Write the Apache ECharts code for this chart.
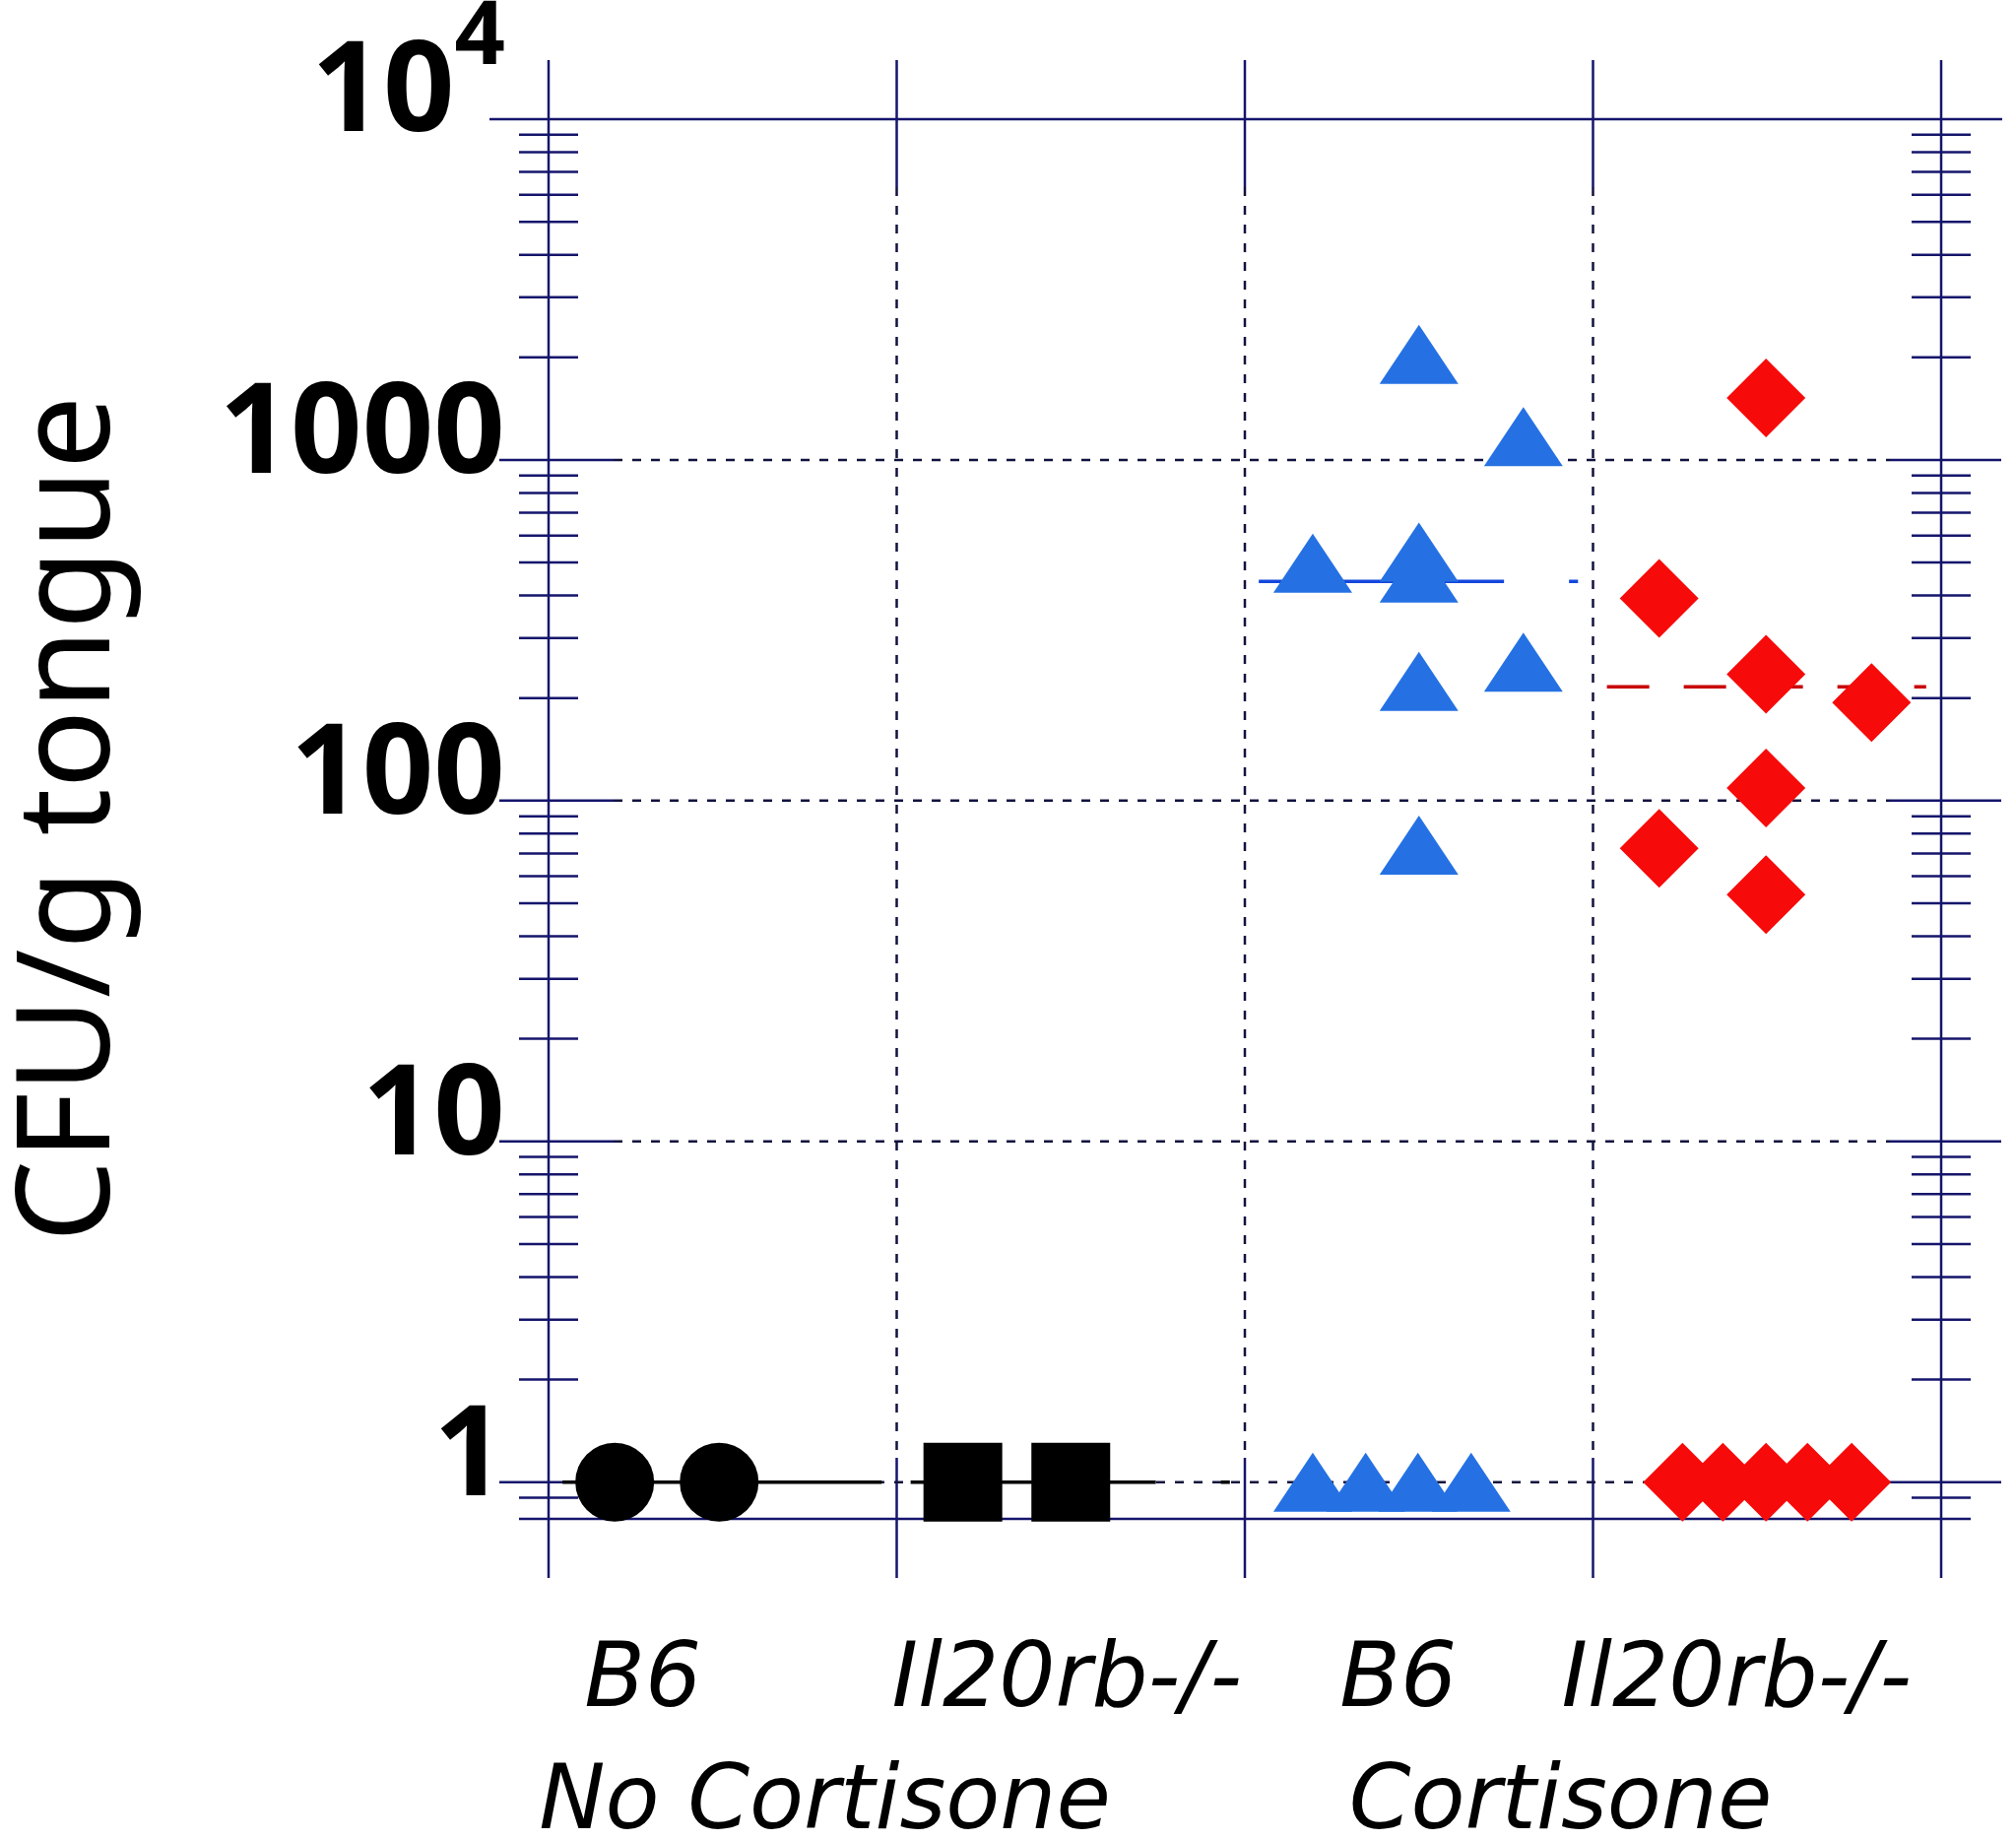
<!DOCTYPE html>
<html>
<head>
<meta charset="utf-8">
<script src="https://cdn.jsdelivr.net/npm/echarts@6/dist/echarts.min.js"></script>
<style>
  html, body { margin: 0; padding: 0; background: #fff; }
  #main { width: 2047px; height: 1868px; }
</style>
</head>
<body>
<div id="main"></div>
<script>
// groups on the x axis
var genotypes = ['B6', 'Il20rb-/-', 'B6', 'Il20rb-/-'];
var treatments = ['No Cortisone', 'Cortisone'];

// CFU/g tongue, one value per mouse (undetected plotted at 1)
var b6NoCort = [1, 1];
var il20NoCort = [1, 1];
var b6Cort = [2040, 1170, 498, 536, 466, 224, 255, 74, 1, 1, 1, 1];
var il20Cort = [1520, 392, 235, 194, 109, 72.5, 53, 1, 1, 1, 1, 1];

// horizontal scatter position of each mouse inside its column (0..1)
var b6NoCortJitter = [0.19, 0.49];
var il20NoCortJitter = [0.19, 0.50];
var b6CortJitter = [0.50, 0.80, 0.195, 0.50, 0.50, 0.50, 0.80, 0.50, 0.195, 0.347, 0.497, 0.65];
var il20CortJitter = [0.497, 0.19, 0.497, 0.80, 0.497, 0.19, 0.497, 0.257, 0.373, 0.497, 0.616, 0.743];

// group centre lines
var centreLines = [1, 1, 440, 216];

// y axis
var yMin = 0.78;
var yMax = 10000;
var decades = [1, 10, 100, 1000, 10000];
var decadeLabels = ['1', '10', '100', '1000', '10|4'];
var minorSteps = [2, 3, 4, 5, 6, 7, 8, 9];
var belowOne = [0.9];

var NAVY = '#15156c';
var GRID = '#12123e';
var BLUE = '#2571e3';
var RED = '#f70a0a';

function pts(vals, jitter, g) {
    return vals.map(function (v, i) { return [g + jitter[i], v]; });
}

// frame: axes, ticks and grid lines, placed through the axes
function renderFrame(params, api) {
    var kids = [];
    function seg(x1, y1, x2, y2, dash) {
        kids.push({
            type: 'line',
            shape: { x1: x1, y1: y1, x2: x2, y2: y2 },
            style: dash
                ? { stroke: GRID, lineWidth: 2.5, lineDash: dash }
                : { stroke: NAVY, lineWidth: 2.5 }
        });
    }
    var xL = api.coord([0, 1])[0];
    var xR = api.coord([genotypes.length, 1])[0];
    var yTop = api.coord([0, yMax])[1];
    var yBot = api.coord([0, yMin])[1];

    for (var i = 0; i <= genotypes.length; i++) {
        var x = api.coord([i, 1])[0];
        if (i === 0 || i === genotypes.length) {
            seg(x, yTop - 60, x, yBot + 60);
        } else {
            seg(x, yTop - 60, x, yTop + 69);
            seg(x, yTop + 69, x, yBot - 62, [9, 10]);
            seg(x, yBot - 62, x, yBot + 60);
        }
    }
    seg(xL - 60, yTop, xR + 62, yTop);
    seg(xL - 30, yBot, xR + 30, yBot);

    decades.slice(0, -1).forEach(function (d) {
        var y = api.coord([0, d])[1];
        seg(xL - 50, y, xL + 66, y);
        seg(xL + 66, y, xR - 52, y, [9, 10]);
        seg(xR - 52, y, xR + 61, y);
    });

    var minors = belowOne.slice();
    decades.slice(0, -1).forEach(function (d) {
        minorSteps.forEach(function (m) { minors.push(m * d); });
    });
    minors.forEach(function (v) {
        var y = api.coord([0, v])[1];
        seg(xL - 30, y, xL + 30, y);
        seg(xR - 30, y, xR + 30, y);
    });
    return { type: 'group', children: kids };
}

function centreLine(g, color, dash) {
    return {
        type: 'line',
        xAxisIndex: 0,
        yAxisIndex: 0,
        silent: true,
        symbol: 'none',
        z: 3,
        lineStyle: { color: color, width: 3.5, type: dash },
        data: [[g + 0.04, centreLines[g]], [g + 0.957, centreLines[g]]]
    };
}

function dots(vals, jitter, g, symbol, size, color) {
    return {
        type: 'scatter',
        xAxisIndex: 0,
        yAxisIndex: 0,
        symbol: symbol,
        symbolSize: size,
        itemStyle: { color: color, opacity: 1 },
        z: 5,
        data: pts(vals, jitter, g)
    };
}

var chart = echarts.init(document.getElementById('main'));

var option = {
    animation: false,
    backgroundColor: '#fff',
    grid: { left: 557, right: 76, top: 121, bottom: 326, outerBoundsMode: 'none' },
    xAxis: [
        { type: 'value', min: 0, max: genotypes.length, show: false },
        {
            type: 'category',
            data: genotypes,
            position: 'bottom',
            axisLine: { show: false },
            axisTick: { show: false },
            splitLine: { show: false },
            axisLabel: {
                interval: 0,
                margin: 122,
                formatter: function (v, i) { return '{c' + i + '|' + v + '}'; },
                rich: {
                    c0: { padding: [0, 162, 0, 0] },
                    c1: { padding: [0, 8, 0, 0] },
                    c2: { padding: [0, 42, 0, 0] },
                    c3: { padding: [0, 62, 0, 0] }
                },
                fontFamily: 'DejaVu Sans',
                fontStyle: 'italic',
                fontSize: 90,
                lineHeight: 90,
                color: '#000'
            }
        },
        {
            type: 'category',
            data: treatments,
            position: 'bottom',
            axisLine: { show: false },
            axisTick: { show: false },
            splitLine: { show: false },
            axisLabel: {
                interval: 0,
                margin: 246,
                formatter: function (v, i) { return '{t' + i + '|' + v + '}'; },
                rich: {
                    t0: { padding: [0, 146, 0, 0] },
                    t1: { padding: [0, 66, 0, 0] }
                },
                fontFamily: 'DejaVu Sans',
                fontStyle: 'italic',
                fontSize: 90,
                lineHeight: 90,
                color: '#000'
            }
        }
    ],
    yAxis: {
        type: 'log',
        logBase: 10,
        min: yMin,
        max: yMax,
        axisLine: { show: false },
        axisTick: { show: false },
        splitLine: { show: false },
        name: 'CFU/g tongue',
        nameLocation: 'middle',
        nameRotate: 90,
        nameGap: 418,
        nameTextStyle: { fontFamily: 'Noto Sans', fontSize: 132, color: '#000' },
        axisLabel: {
            margin: 44,
            formatter: function (v) {
                for (var i = 0; i < decades.length; i++) {
                    if (Math.abs(v - decades[i]) < decades[i] * 1e-6) {
                        var parts = decadeLabels[i].split('|');
                        if (parts.length > 1) return '{b|' + parts[0] + '}{s|' + parts[1] + '}';
                        return '{n|' + parts[0] + '}';
                    }
                }
                return '';
            },
            rich: {
                n: { fontSize: 127, fontWeight: 'bold', lineHeight: 127, padding: [0, 0, 23, 0], verticalAlign: 'bottom' },
                b: { fontSize: 127, fontWeight: 'bold', lineHeight: 127, padding: [0, 0, 24, 0], verticalAlign: 'bottom' },
                s: { fontSize: 90, fontWeight: 'bold', lineHeight: 90, padding: [0, 0, 100, 0], verticalAlign: 'bottom' }
            },
            fontFamily: 'Noto Sans',
            color: '#000'
        }
    },
    series: [
        {
            type: 'custom',
            coordinateSystem: 'cartesian2d',
            silent: true,
            clip: false,
            z: 1,
            renderItem: renderFrame,
            data: [[0, 1]]
        },
        centreLine(0, '#000', 'solid'),
        centreLine(1, '#000', [249, 66]),
        centreLine(2, '#1447dc', [249, 66]),
        centreLine(3, '#c80000', [43, 35]),
        dots(b6NoCort, b6NoCortJitter, 0, 'circle', 80, '#000'),
        dots(il20NoCort, il20NoCortJitter, 1, 'rect', 80, '#000'),
        dots(b6Cort, b6CortJitter, 2, 'triangle', [80, 60], BLUE),
        dots(il20Cort, il20CortJitter, 3, 'diamond', [80, 80], RED)
    ]
};

chart.setOption(option);
</script>
</body>
</html>
